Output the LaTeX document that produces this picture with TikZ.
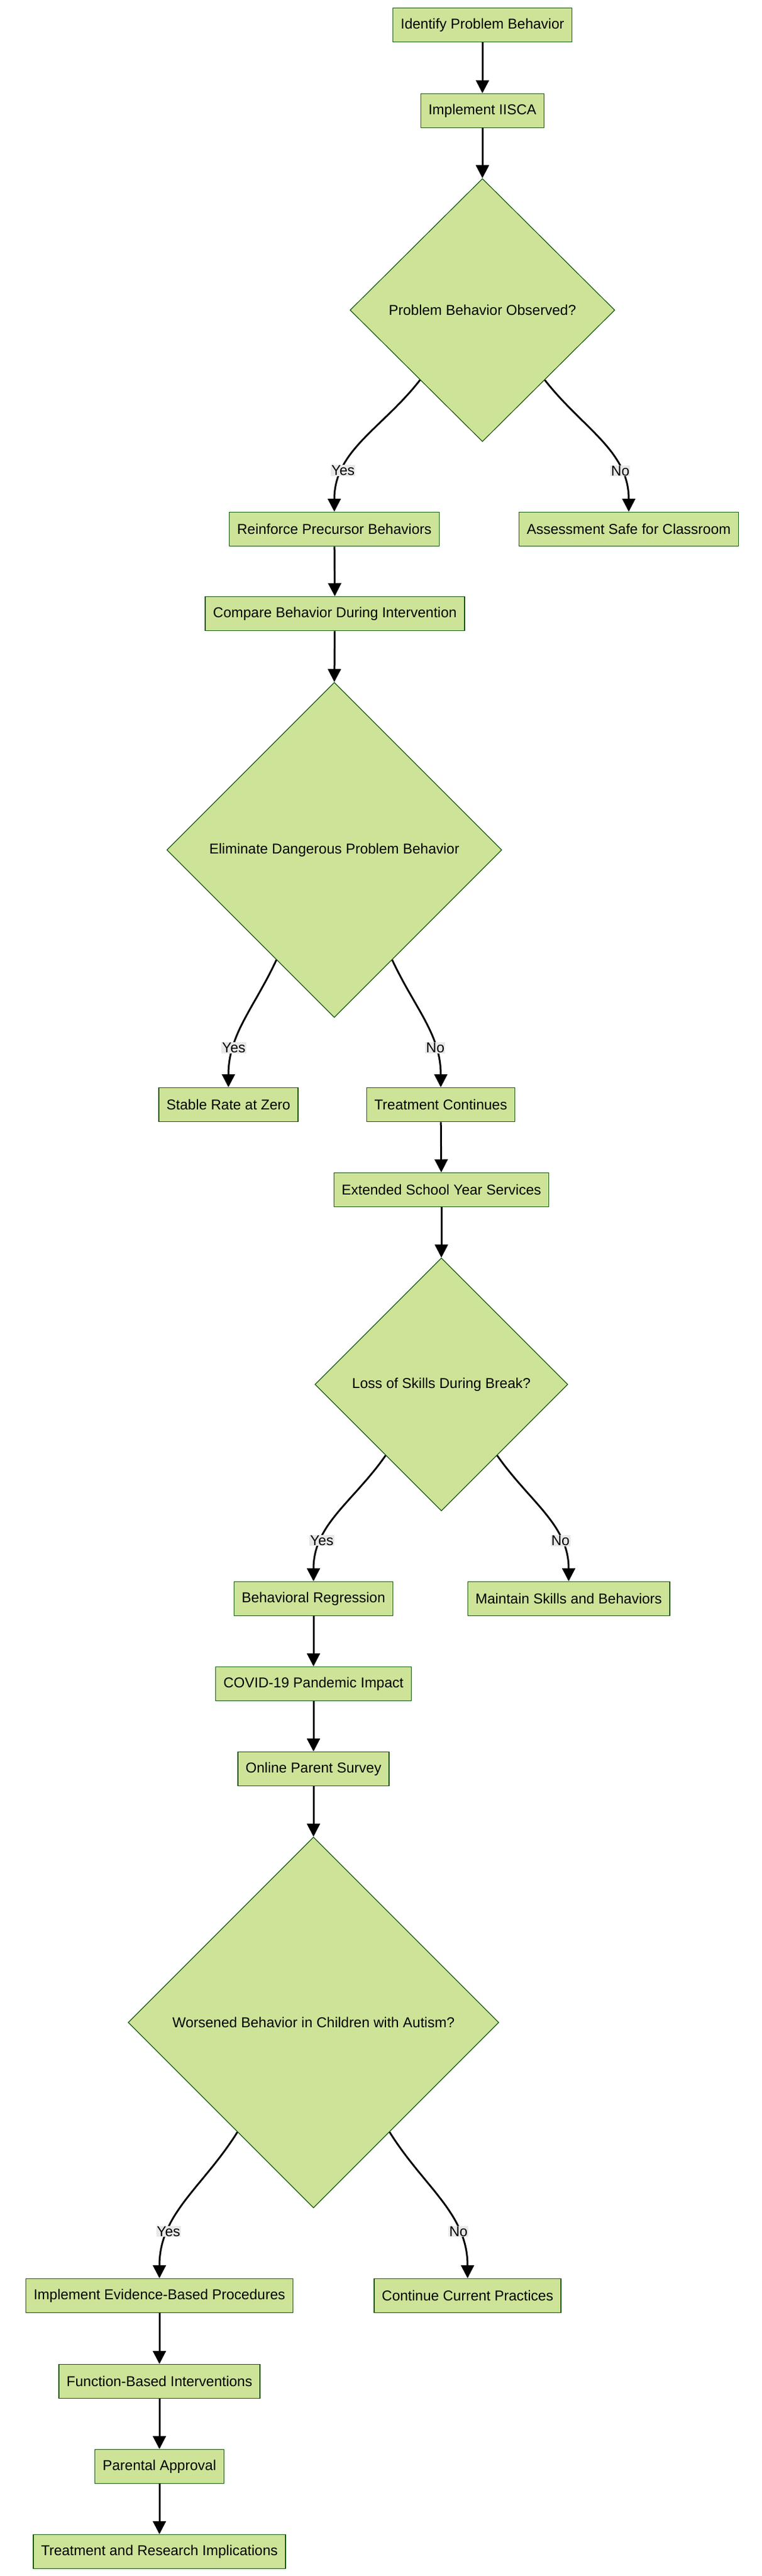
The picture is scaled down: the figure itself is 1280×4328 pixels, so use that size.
\documentclass[tikz,border=0pt]{standalone}
\usepackage{fontspec}
\setmainfont{Liberation Sans}
\usetikzlibrary{shapes.geometric,arrows.meta,positioning,calc}
\definecolor{boxfill}{HTML}{CDE498}
\definecolor{boxline}{HTML}{13540C}
\definecolor{lblfill}{HTML}{E8E8E8}

\begin{document}
\begin{tikzpicture}[
    x=1pt, y=-1pt,
    box/.style={rectangle, draw=boxline, fill=boxfill, line width=1.5pt, minimum height=57pt, inner xsep=13pt, font=\fontsize{24}{28}\selectfont},
    decision/.style={diamond, draw=boxline, fill=boxfill, line width=1.2pt, inner sep=0pt, font=\fontsize{24}{28}\selectfont},
    arrow/.style={-{Triangle[length=22pt,width=22pt]}, line width=3pt},
    lbl/.style={fill=lblfill, inner sep=1pt, font=\fontsize{24}{28}\selectfont}
]
\useasboundingbox (0,0) rectangle (1280,4328);

\node[box] (identify) at (811,42) {Identify Problem Behavior};
\node[box] (iisca) at (811,186) {Implement IISCA};
\node[decision, minimum width=445pt, minimum height=442pt] (observed) at (811,521) {Problem Behavior Observed?};
\node[box] (precursor) at (562,889) {Reinforce Precursor Behaviors};
\node[box] (safe) at (1057,889) {Assessment Safe for Classroom};
\node[box] (compare) at (563,1031) {Compare Behavior During Intervention};
\node[decision, minimum width=563pt, minimum height=563pt] (eliminate) at (562,1428) {Eliminate Dangerous Problem Behavior};
\node[box] (stable) at (384,1856) {Stable Rate at Zero};
\node[box] (continues) at (741,1856) {Treatment Continues};
\node[box] (esy) at (742,1999) {Extended School Year Services};
\node[decision, minimum width=425pt, minimum height=425pt] (loss) at (742,2326) {Loss of Skills During Break?};
\node[box] (regression) at (527,2686) {Behavioral Regression};
\node[box] (maintain) at (956,2686) {Maintain Skills and Behaviors};
\node[box] (covid) at (527,2829) {COVID-19 Pandemic Impact};
\node[box] (survey) at (527,2972) {Online Parent Survey};
\node[decision, minimum width=623pt, minimum height=623pt] (worsened) at (527,3398) {Worsened Behavior in Children with Autism?};
\node[box] (evidence) at (268,3857) {Implement Evidence-Based Procedures};
\node[box] (current) at (786,3857) {Continue Current Practices};
\node[box] (function) at (268,4001) {Function-Based Interventions};
\node[box] (approval) at (268,4144) {Parental Approval};
\node[box] (implications) at (268,4287) {Treatment and Research Implications};

% straight links
\draw[arrow] (identify) -- (iisca);
\draw[arrow] (iisca) -- (observed.north);
\draw[arrow] (precursor) -- (compare);
\draw[arrow] (compare) -- (eliminate.north);
\draw[arrow] (continues) -- (esy);
\draw[arrow] (esy) -- (loss.north);
\draw[arrow] (regression) -- (covid);
\draw[arrow] (covid) -- (survey);
\draw[arrow] (survey) -- (worsened.north);
\draw[arrow] (evidence) -- (function);
\draw[arrow] (function) -- (approval);
\draw[arrow] (approval) -- (implications);

% decision branches
\draw[arrow] ($(observed.south)!0.47!(observed.west)$) to[out=-128,in=90] node[lbl, pos=0.74] {Yes} (precursor.north);
\draw[arrow] ($(observed.south)!0.47!(observed.east)$) to[out=-52,in=90] node[lbl, pos=0.74] {No} (safe.north);
\draw[arrow] ($(eliminate.south)!0.345!(eliminate.west)$) to[out=-115,in=90] node[lbl, pos=0.72] {Yes} (stable.north);
\draw[arrow] ($(eliminate.south)!0.345!(eliminate.east)$) to[out=-65,in=90] node[lbl, pos=0.72] {No} (continues.north);
\draw[arrow] ($(loss.south)!0.44!(loss.west)$) to[out=-125,in=90] node[lbl, pos=0.72] {Yes} (regression.north);
\draw[arrow] ($(loss.south)!0.44!(loss.east)$) to[out=-55,in=90] node[lbl, pos=0.72] {No} (maintain.north);
\draw[arrow] ($(worsened.south)!0.41!(worsened.west)$) to[out=-122,in=90] node[lbl, pos=0.72] {Yes} (evidence.north);
\draw[arrow] ($(worsened.south)!0.41!(worsened.east)$) to[out=-58,in=90] node[lbl, pos=0.72] {No} (current.north);
\end{tikzpicture}
\end{document}
